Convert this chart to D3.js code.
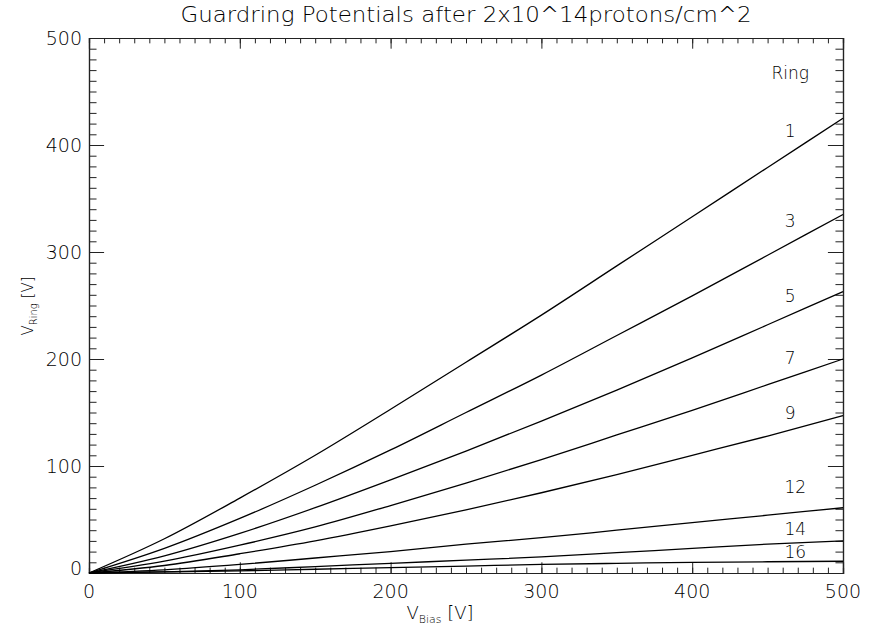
<!DOCTYPE html>
<html>
<head>
<meta charset="utf-8">
<script src="https://cdn.jsdelivr.net/npm/d3@7"></script>
<style>
  body { margin: 0; background: #fff; }
  svg text { font-family: "DejaVu Sans", sans-serif; font-weight: 200; fill: #000; }
</style>
</head>
<body>
<div id="chart"></div>
<script>
// bias voltage samples (V)
var biasV = [0, 50, 100, 150, 200, 250, 300, 350, 400, 450, 500];

// ring names and their potential at each bias value
var rings = ["1", "3", "5", "7", "9", "12", "14", "16"];
var ring1  = [0, 32, 70, 110, 153, 197, 241, 287, 333, 379, 425];
var ring3  = [0, 23, 51, 82, 115, 150, 185, 222, 259, 297, 335];
var ring5  = [0, 16, 37, 61, 87, 114, 142, 171, 201, 232, 263];
var ring7  = [0, 11, 26, 43, 63, 84, 106, 129, 152, 176, 200];
var ring9  = [0, 7, 18, 30, 44, 59, 75, 92, 110, 128, 147];
var ring12 = [0, 3, 8, 14, 20, 27, 33, 40, 47, 54, 61];
var ring14 = [0, 1, 3, 6, 9, 12, 15, 19, 23, 27, 30];
var ring16 = [0, 1, 2, 3.5, 5, 6.5, 8, 9, 10, 10.5, 11];
var ringSeries = [ring1, ring3, ring5, ring7, ring9, ring12, ring14, ring16];

// where the ring number labels sit, in data units
var labelBias = 465;
var labelV = [413, 329, 259, 201, 150, 80, 41, 20];

var xTicks = [0, 100, 200, 300, 400, 500];
var yTicks = [0, 100, 200, 300, 400, 500];

var width = 876, height = 632;
var pLeft = 89, pRight = 843, pTop = 38, pBottom = 573;

var svg = d3.select('#chart').append('svg')
    .attr('width', width)
    .attr('height', height);

var x = d3.scaleLinear().domain([0, 500]).range([pLeft, pRight]);
var y = d3.scaleLinear().domain([0, 500]).range([pBottom, pTop]);

var plotW = pRight - pLeft, plotH = pBottom - pTop;
var xMajor = 0.02 * plotH, yMajor = 0.02 * plotW;
var minorTicks = d3.range(0, 500.1, 10);

var axisColor = "#222";

// axes on all four sides, ticks pointing inwards: minor then major
function drawAxis(axisFn, scale, translate, len) {
    svg.append("g").attr("transform", translate)
        .call(axisFn(scale).tickValues(minorTicks).tickSize(len / 2).tickFormat(""));
    svg.append("g").attr("transform", translate)
        .call(axisFn(scale).tickValues(xTicks).tickSize(len).tickFormat(""));
}

drawAxis(d3.axisTop, x, "translate(0," + pBottom + ")", xMajor);
drawAxis(d3.axisBottom, x, "translate(0," + pTop + ")", xMajor);
drawAxis(d3.axisRight, y, "translate(" + pLeft + ",0)", yMajor);
drawAxis(d3.axisLeft, y, "translate(" + pRight + ",0)", yMajor);

svg.selectAll(".domain").attr("stroke", axisColor).attr("stroke-width", 1.2);
svg.selectAll(".tick line").attr("stroke", axisColor).attr("stroke-width", 1);

// tick labels
svg.selectAll(".xlab")
    .data(xTicks)
    .enter().append("text")
    .attr("x", function(d) { return x(d); })
    .attr("y", pBottom + 25)
    .attr("text-anchor", "middle")
    .attr("font-size", 19)
    .text(function(d) { return d; });

svg.selectAll(".ylab")
    .data(yTicks)
    .enter().append("text")
    .attr("x", pLeft - 7)
    .attr("y", function(d) { return y(d) + (d === 0 ? 2 : 7); })
    .attr("text-anchor", "end")
    .attr("font-size", 19)
    .text(function(d) { return d; });

// curves
var line = d3.line()
    .x(function(d, i) { return x(biasV[i]); })
    .y(function(d) { return y(d); })
    .curve(d3.curveMonotoneX);

svg.selectAll(".ring")
    .data(ringSeries)
    .enter().append("path")
    .attr("d", line)
    .attr("fill", "none")
    .attr("stroke", "#000")
    .attr("stroke-width", 1.3);

// ring labels
svg.append("text")
    .attr("x", x(labelBias))
    .attr("y", y(462))
    .attr("text-anchor", "middle")
    .attr("font-size", 17)
    .text("Ring");

svg.selectAll(".rlab")
    .data(rings)
    .enter().append("text")
    .attr("x", function(d) { return x(labelBias) + (d.length > 1 ? 5 : 0); })
    .attr("y", function(d, i) { return y(labelV[i]) + 6; })
    .attr("text-anchor", "middle")
    .attr("font-size", 17)
    .text(function(d) { return d; });

// title
svg.append("text")
    .attr("x", (pLeft + pRight) / 2)
    .attr("y", 22)
    .attr("text-anchor", "middle")
    .attr("font-size", 21)
    .attr("textLength", 571)
    .attr("lengthAdjust", "spacingAndGlyphs")
    .text("Guardring Potentials after 2x10^14protons/cm^2");

// x axis title
var xt = svg.append("text")
    .attr("x", 440)
    .attr("y", 619)
    .attr("text-anchor", "middle")
    .attr("font-size", 18);
xt.append("tspan").text("V");
xt.append("tspan").attr("font-size", 11).attr("dy", 4).text("Bias");
xt.append("tspan").attr("dy", -4).text(" [V]");

// y axis title
var yt = svg.append("text")
    .attr("transform", "translate(33,306) rotate(-90)")
    .attr("text-anchor", "middle")
    .attr("font-size", 15);
yt.append("tspan").text("V");
yt.append("tspan").attr("font-size", 10).attr("dy", 4).text("Ring");
yt.append("tspan").attr("dy", -4).text(" [V]");
</script>
</body>
</html>
